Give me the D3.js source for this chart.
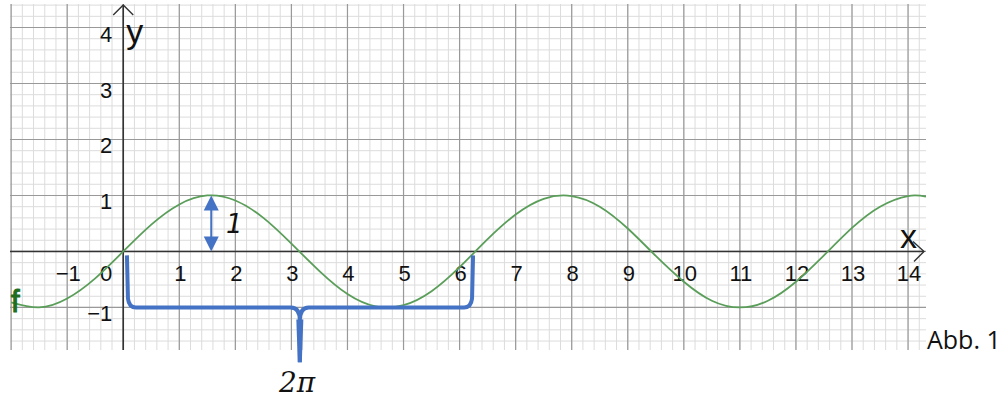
<!DOCTYPE html>
<html><head><meta charset="utf-8">
<script src="https://cdn.jsdelivr.net/npm/d3@7"></script>
<style>body{margin:0;background:#fff}svg{display:block}</style>
</head><body>
<svg id="c" width="1002" height="414"></svg>
<script>
// ---- data ----
const xTicks = [-1, 0, 1, 2, 3, 4, 5, 6, 7, 8, 9, 10, 11, 12, 13, 14];
const yTicks = [-1, 1, 2, 3, 4];
const curveX = [-2, -1.5, -1, -0.5, 0, 0.5, 1, 1.5, 2, 2.5, 3, 3.5, 4, 4.5, 5, 5.5, 6, 6.5, 7, 7.5, 8, 8.5, 9, 9.5, 10, 10.5, 11, 11.5, 12, 12.5, 13, 13.5, 14, 14.32];
const curveY = [-0.91, -1.00, -0.84, -0.48, 0, 0.48, 0.84, 1.00, 0.91, 0.60, 0.14, -0.35, -0.76, -0.98, -0.96, -0.71, -0.28, 0.22, 0.66, 0.94, 0.99, 0.80, 0.41, -0.08, -0.54, -0.88, -1.00, -0.88, -0.54, -0.07, 0.42, 0.80, 0.99, 0.98];
const bracketX = [0.066, 3.15, 6.24];      // left end, middle spike, right end
const bracketY = [-0.07, -1.0, -1.98];     // top of ends, bar level, spike tip
const ampX = 1.57, ampY = [1, 0];
const xDomain = [-2.02, 14.32], yDomain = [-1.76, 4.42];

// ---- scales ----
const svg = d3.select("#c");
const x = d3.scaleLinear().domain(xDomain).range([10, 926]);
const y = d3.scaleLinear().domain(yDomain).range([350, 4]);

// minor grid
const minorX = d3.range(-10, 72).map(i => i / 5).filter(v => v >= xDomain[0] && v <= xDomain[1]);
const minorY = d3.range(-8, 23).map(i => i / 5).filter(v => v >= yDomain[0] && v <= yDomain[1]);
const g = svg.append("g");
g.selectAll(".mx").data(minorX).join("line")
  .attr("x1", d => x(d)).attr("x2", d => x(d)).attr("y1", y(yDomain[1])).attr("y2", y(yDomain[0]))
  .attr("stroke", "#dcdcdc").attr("stroke-width", 1);
g.selectAll(".my").data(minorY).join("line")
  .attr("y1", d => y(d)).attr("y2", d => y(d)).attr("x1", x(xDomain[0])).attr("x2", x(xDomain[1]))
  .attr("stroke", "#dcdcdc").attr("stroke-width", 1);
// major grid
const majorX = d3.range(-2, 15);
const majorY = d3.range(-1, 5);
g.selectAll(".Mx").data(majorX).join("line")
  .attr("x1", d => x(d)).attr("x2", d => x(d)).attr("y1", y(yDomain[1])).attr("y2", y(yDomain[0]))
  .attr("stroke", "#999").attr("stroke-width", 1.2);
g.selectAll(".My").data(majorY).join("line")
  .attr("y1", d => y(d)).attr("y2", d => y(d)).attr("x1", x(xDomain[0])).attr("x2", x(xDomain[1]))
  .attr("stroke", "#999").attr("stroke-width", 1.2);

// axes
const ax = "#333";
svg.append("line").attr("x1", x(xDomain[0])).attr("x2", 924).attr("y1", y(0)).attr("y2", y(0))
  .attr("stroke", ax).attr("stroke-width", 1.6);
svg.append("line").attr("x1", x(0)).attr("x2", x(0)).attr("y1", 5).attr("y2", y(yDomain[0]))
  .attr("stroke", ax).attr("stroke-width", 1.6);
svg.append("path").attr("d", `M${x(0)-10},15 L${x(0)},5 L${x(0)+10},15`)
  .attr("fill", "none").attr("stroke", ax).attr("stroke-width", 1.4);
svg.append("path").attr("d", `M913,${y(0)-10} L924,${y(0)} L914,${y(0)+10}`)
  .attr("fill", "none").attr("stroke", ax).attr("stroke-width", 1.4);

// tick labels
const font = "'Liberation Sans', Arial, sans-serif";
svg.selectAll(".xl").data(xTicks).join("text")
  .attr("x", d => d === 0 ? x(0) - 17 : x(d) + 1).attr("y", y(0) + 30)
  .attr("text-anchor", "middle").attr("font-family", font).attr("font-size", 22).attr("fill", "#111")
  .text(d => d < 0 ? "\u2212" + Math.abs(d) : d);
svg.selectAll(".yl").data(yTicks).join("text")
  .attr("x", x(0) - 11).attr("y", d => y(d) + 14)
  .attr("text-anchor", "end").attr("font-family", font).attr("font-size", 22).attr("fill", "#111")
  .text(d => d < 0 ? "\u2212" + Math.abs(d) : d);

svg.append("text").attr("x", x(0) + 3).attr("y", 43).attr("font-family", font).attr("font-size", 34).attr("fill", "#111").text("y");
svg.append("text").attr("x", 900).attr("y", 248).attr("font-family", font).attr("font-size", 34).attr("fill", "#111").text("x");

// curve f
const pts = curveX.map((v, i) => [v, curveY[i]]);
svg.append("path").datum(pts)
  .attr("d", d3.line().x(d => x(d[0])).y(d => y(d[1])).curve(d3.curveNatural))
  .attr("fill", "none").attr("stroke", "#5a9e5a").attr("stroke-width", 1.8);
svg.append("text").attr("x", 11).attr("y", 312).attr("font-family", font).attr("font-size", 31)
  .attr("stroke", "#1e6e1e").attr("stroke-width", 1).attr("fill", "#1e6e1e").text("f");

// blue bracket
const blue = "#4472c4";
const L = x(bracketX[0]), M = x(bracketX[1]), R = x(bracketX[2]);
const T = y(bracketY[0]), B = y(bracketY[1]), S = y(bracketY[2]);
const r = 9;
const bp = `M${L},${T} L${L+1},${B-r} Q${L+2},${B} ${L+r},${B} L${M-r},${B} Q${M},${B} ${M},${B+r+4} L${M},${S}` +
           ` M${M},${B+r+4} Q${M},${B} ${M+r},${B} L${R-r},${B} Q${R-2},${B} ${R-1},${B-r} L${R},${T}`;
svg.append("path").attr("d", bp).attr("fill", "none").attr("stroke", blue).attr("stroke-width", 4)
  .attr("stroke-linejoin", "round");
svg.append("path").attr("d", `M${M-3.5},${B+12} L${M-2},${S} L${M+2},${S} L${M+3.5},${B+12} Z`).attr("fill", blue);

// amplitude arrow
const ax1 = x(ampX), ya = y(ampY[0]), yb = y(ampY[1]);
svg.append("line").attr("x1", ax1).attr("x2", ax1).attr("y1", ya + 12).attr("y2", yb - 12)
  .attr("stroke", blue).attr("stroke-width", 2);
svg.append("path").attr("d", `M${ax1},${ya} L${ax1-7.5},${ya+15} L${ax1+7.5},${ya+15} Z`).attr("fill", blue);
svg.append("path").attr("d", `M${ax1},${yb} L${ax1-7.5},${yb-15} L${ax1+7.5},${yb-15} Z`).attr("fill", blue);

// handwritten labels
svg.append("text").attr("x", 226).attr("y", 233).attr("font-family", "'DejaVu Sans', sans-serif")
  .attr("font-style", "italic").attr("font-weight", 300).attr("font-size", 26).attr("fill", "#111").text("1");
svg.append("text").attr("x", 279).attr("y", 392).attr("font-family", "'DejaVu Serif', serif")
  .attr("font-style", "italic").attr("font-size", 28).attr("fill", "#111").text("2\u03c0");

// caption
svg.append("text").attr("x", 927).attr("y", 349).attr("font-family", "'Open Sans', sans-serif")
  .attr("font-size", 25).attr("fill", "#111").text("Abb. 1");
</script>
</body></html>
